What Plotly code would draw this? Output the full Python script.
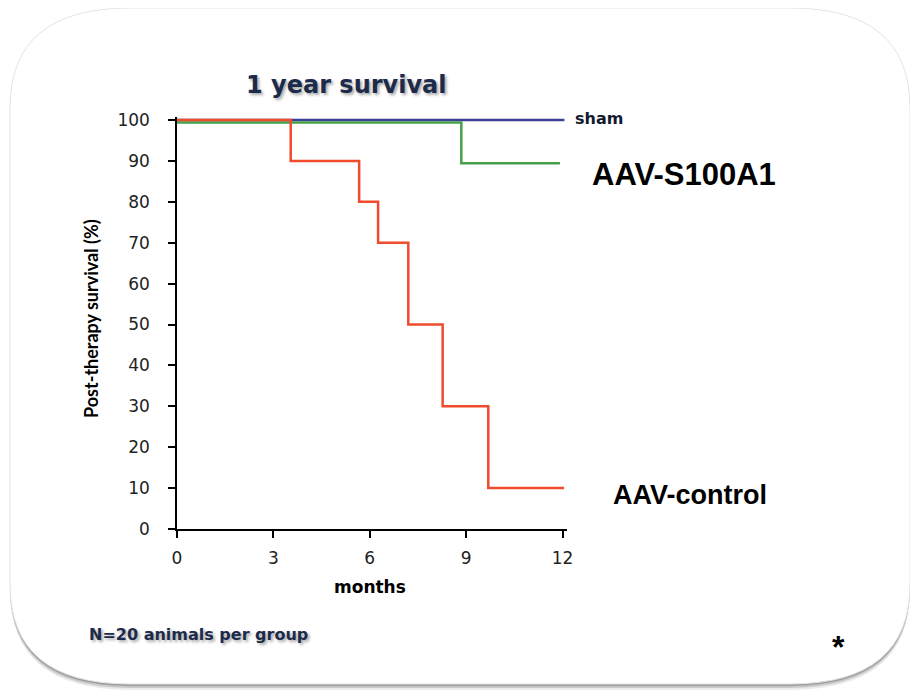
import plotly.graph_objects as go

# ---------------- data ----------------
months_sham = [0, 12.06]
surv_sham = [100, 100]

months_s100a1 = [0, 8.85, 11.92]
surv_s100a1 = [99.4, 89.4, 89.4]

months_control = [0, 3.54, 5.67, 6.26, 7.2, 8.27, 9.69, 12.05]
surv_control = [100, 90, 80, 70, 50, 30, 10, 10]

x_ticks = [0, 3, 6, 9, 12]
y_ticks = [0, 10, 20, 30, 40, 50, 60, 70, 80, 90, 100]

# ---------------- layout geometry ----------------
OFF = 8  # page body margin
W_FIG, H_FIG = 910, 682
PX_PER_MONTH, PX_PER_PCT = 32.125, 4.09
PW, PH = 390, 412
L = 177 - OFF
T = (529 - PH) - OFF
R = W_FIG - L - PW
B = H_FIG - T - PH


def paper(px, py):
    fx, fy = px - OFF, py - OFF
    return ((fx - L) / PW, (H_FIG - B - fy) / PH)


def rounded_path(x0, y0, x1, y1, rx, ry, dx=0, dy=0):
    def p(x, y):
        a, b = paper(x + dx, y + dy)
        return f"{a:.5f},{b:.5f}"
    return (f"M {p(x0 + rx, y0)} L {p(x1 - rx, y0)} Q {p(x1, y0)} {p(x1, y0 + ry)} "
            f"L {p(x1, y1 - ry)} Q {p(x1, y1)} {p(x1 - rx, y1)} "
            f"L {p(x0 + rx, y1)} Q {p(x0, y1)} {p(x0, y1 - ry)} "
            f"L {p(x0, y0 + ry)} Q {p(x0, y0)} {p(x0 + rx, y0)} Z")


fig = go.Figure()

fig.add_trace(go.Scatter(x=months_sham, y=surv_sham, mode="lines", line_shape="hv",
                         line=dict(color="#3b3f98", width=2.5), name="sham"))
fig.add_trace(go.Scatter(x=months_s100a1, y=surv_s100a1, mode="lines", line_shape="hv",
                         line=dict(color="#44a04a", width=2.5), name="AAV-S100A1"))
fig.add_trace(go.Scatter(x=months_control, y=surv_control, mode="lines", line_shape="hv",
                         line=dict(color="#f04b2c", width=2.5), name="AAV-control"))

shapes = []
for dy, col in [(6, "rgba(0,0,0,0.08)"), (4, "rgba(0,0,0,0.14)"), (2, "rgba(0,0,0,0.22)")]:
    shapes.append(dict(type="path", xref="paper", yref="paper", layer="below",
                       path=rounded_path(10, 8, 910, 684, 120, 100, dx=0, dy=dy),
                       fillcolor=col, line=dict(width=0)))
shapes.append(dict(type="path", xref="paper", yref="paper", layer="below",
                   path=rounded_path(10, 8, 910, 684, 120, 100),
                   fillcolor="white", line=dict(color="#e4e4e4", width=1)))

annotations = []


def ann(text, px, py, size, family, color="black", xanchor="left", yanchor="middle",
        shadow=None, angle=0):
    x, y = paper(px, py)
    font = dict(size=size, family=family, color=color)
    if shadow:
        font["shadow"] = shadow
    annotations.append(dict(text=text, x=x, y=y, xref="paper", yref="paper",
                            xanchor=xanchor, yanchor=yanchor, showarrow=False,
                            font=font, textangle=angle))


ann("<b>1 year survival</b>", 346, 85, 24, "DejaVu Sans", color="#1c2b4b",
    xanchor="center", shadow="2px 2px 3px rgba(0,0,0,0.35)")
ann("<b>Post-therapy survival (%)</b>", 91, 319, 18, "Lato", xanchor="center", angle=-90)
ann("<b>months</b>", 370, 587, 17, "DejaVu Sans", xanchor="center")
ann("<b>sham</b>", 573, 118, 16, "DejaVu Sans", color="#111a2e")
ann("<b>AAV-S100A1</b>", 590, 174, 31, "Liberation Sans")
ann("<b>AAV-control</b>", 611, 495, 27, "Liberation Sans")
ann("<b>N=20 animals per group</b>", 87, 634, 16, "DejaVu Sans", color="#1c2b4b",
    shadow="2px 2px 3px rgba(0,0,0,0.35)")
ann("<b>*</b>", 838, 647, 32, "Liberation Sans", xanchor="center")

fig.update_layout(
    width=W_FIG, height=H_FIG,
    margin=dict(l=L, r=R, t=T, b=B, autoexpand=False),
    paper_bgcolor="white", plot_bgcolor="rgba(0,0,0,0)",
    showlegend=False,
    shapes=shapes, annotations=annotations,
    xaxis=dict(range=[0, PW / PX_PER_MONTH], tickvals=x_ticks, ticktext=[str(v) for v in x_ticks],
               showgrid=False, zeroline=False, showline=True, linecolor="black", linewidth=1.5,
               ticks="outside", ticklen=7, tickwidth=1.5, tickcolor="black",
               tickfont=dict(family="DejaVu Sans", size=17, color="#222"),
               ticklabelstandoff=6),
    yaxis=dict(range=[0, PH / PX_PER_PCT], tickvals=y_ticks, ticktext=[str(v) for v in y_ticks],
               showgrid=False, zeroline=False, showline=True, linecolor="black", linewidth=1.5,
               ticks="outside", ticklen=7, tickwidth=1.5, tickcolor="black",
               tickfont=dict(family="DejaVu Sans", size=17, color="#222"),
               ticklabelstandoff=15),
)

fig.write_html("out.html")
